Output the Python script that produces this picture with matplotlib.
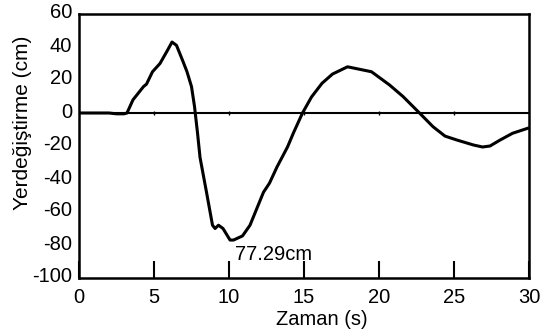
import numpy as np
import matplotlib
matplotlib.use("Agg")
import matplotlib.pyplot as plt
from matplotlib.transforms import ScaledTranslation

plt.rcParams['font.family'] = ['Liberation Sans', 'DejaVu Sans']
plt.rcParams['axes.unicode_minus'] = False

# displacement curve
t = [0, 1, 2, 2.5, 3.0, 3.2, 3.6, 4.3, 4.5, 4.9, 5.4, 5.9, 6.2, 6.5, 6.9, 7.2,
     7.5, 7.7, 7.9, 8.07, 8.5, 8.9, 9.07, 9.3, 9.6, 10.07, 10.3, 10.9, 11.4,
     12.3, 12.7, 13.2, 13.9, 14.3, 14.9, 15.5, 16.2, 16.9, 17.9, 18.7, 19.5,
     20.7, 21.6, 22.7, 23.6, 24.4, 25.2, 26.3, 26.9, 27.4, 28.07, 28.9, 29.9]
disp = [0, 0, 0, -0.5, -0.5, 0, 8, 16, 17.5, 25, 30, 38, 43, 41, 32, 25,
        16, 4, -12, -27, -48, -68, -70, -68, -70, -77, -77, -74.5, -68,
        -48, -42.5, -32.7, -20.6, -12, 0, 9.7, 18, 23.6, 28, 26.5, 25,
        17, 10, 0, -8.3, -14, -16.4, -19.4, -20.6, -20, -16.4, -12.3, -9.3]

xticks = [0, 5, 10, 15, 20, 25, 30]
yticks = [60, 40, 20, 0, -20, -40, -60, -80, -100]
peak_label = "77.29cm"

fig = plt.figure(figsize=(5.41, 3.35), dpi=100)
ax = fig.add_axes([79/541, 57/335, 450/541, 264/335])

ax.axhline(0, color='black', lw=1.5, zorder=1)
ax.plot(xticks[1:-1], np.zeros(len(xticks) - 2), ls='none', marker='|',
        ms=3, mew=1, color='black')
ax.plot(t, disp, color='black', lw=2.2, zorder=3)

ax.set_xlim(0, 30)
ax.set_ylim(-100, 60)
ax.set_xticks(xticks)
ax.set_yticks(yticks)
fs = 14.5
ax.tick_params(axis='x', direction='in', length=12, width=1.5, labelsize=fs, pad=7)
ax.tick_params(axis='y', length=0, labelsize=fs, pad=5)
for s in ax.spines.values():
    s.set_linewidth(1.8)

# y labels sit a little above their values in the original
shift = ScaledTranslation(0, 0.03, fig.dpi_scale_trans)
for lab in ax.get_yticklabels():
    lab.set_transform(lab.get_transform() + shift)

ax.text(10.4, -86, peak_label, fontsize=fs, va='center', ha='left')

ax.set_xlabel("Zaman (s)", fontsize=fs)
ax.xaxis.set_label_coords(0.54, -0.12)
ax.set_ylabel("Yerdeğiştirme (cm)", fontsize=15)
ax.yaxis.set_label_coords(-0.104, 0.587)

fig.savefig("out.png", dpi=100)
